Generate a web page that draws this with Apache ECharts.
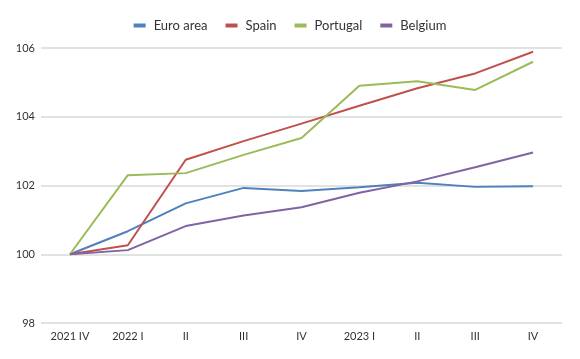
<!DOCTYPE html>
<html><head><meta charset="utf-8">
<script src="https://cdn.jsdelivr.net/npm/echarts@6/dist/echarts.min.js"></script>
<style>html,body{margin:0;padding:0;background:#fff}#c{width:580px;height:359px}</style>
</head><body><div id="c"></div>
<script>
const categories = ['2021 IV','2022 I','II','III','IV','2023 I','II','III','IV'];
const euroArea = [100, 100.67, 101.48, 101.93, 101.84, 101.95, 102.08, 101.96, 101.98];
const spain    = [100, 100.26, 102.75, 103.29, 103.80, 104.32, 104.83, 105.26, 105.89];
const portugal = [100, 102.30, 102.36, 102.89, 103.38, 104.90, 105.03, 104.78, 105.60];
const belgium  = [100, 100.12, 100.82, 101.13, 101.37, 101.79, 102.12, 102.53, 102.96];
const yTicks = [98, 100, 102, 104, 106];

const colors = ['#4f81bd','#c0504d','#9bbb59','#8064a2'];
const mk = (name, data, i) => ({name, type:'line', data, symbol:'none', smooth:false,
  lineStyle:{width:2, color:colors[i]}, itemStyle:{color:colors[i]}});
const chart = echarts.init(document.getElementById('c'), null, {renderer:'canvas'});
chart.setOption({
  animation:false,
  textStyle:{fontFamily:'Lato'},
  legend:{top:14, left:'center', itemWidth:12, itemHeight:4, itemGap:18, icon:'rect',
    textStyle:{fontSize:13, color:'#333', fontFamily:'Lato', padding:[0,0,0,3]}},
  grid:{left:41, right:18, top:48, bottom:36},
  xAxis:{type:'category', data:categories, boundaryGap:true,
    axisLine:{show:false}, axisTick:{show:false},
    axisLabel:{fontSize:11, color:'#333', margin:8, fontFamily:'Lato'}},
  yAxis:{type:'value', min:yTicks[0], max:yTicks[yTicks.length-1], interval:2,
    axisLine:{show:false}, axisTick:{show:false},
    axisLabel:{fontSize:11, color:'#333', margin:6, fontFamily:'Lato'},
    splitLine:{lineStyle:{color:'#d9d9d9', width:1.5}}},
  series:[mk('Euro area', euroArea, 0), mk('Spain', spain, 1), mk('Portugal', portugal, 2), mk('Belgium', belgium, 3)]
});
</script></body></html>
